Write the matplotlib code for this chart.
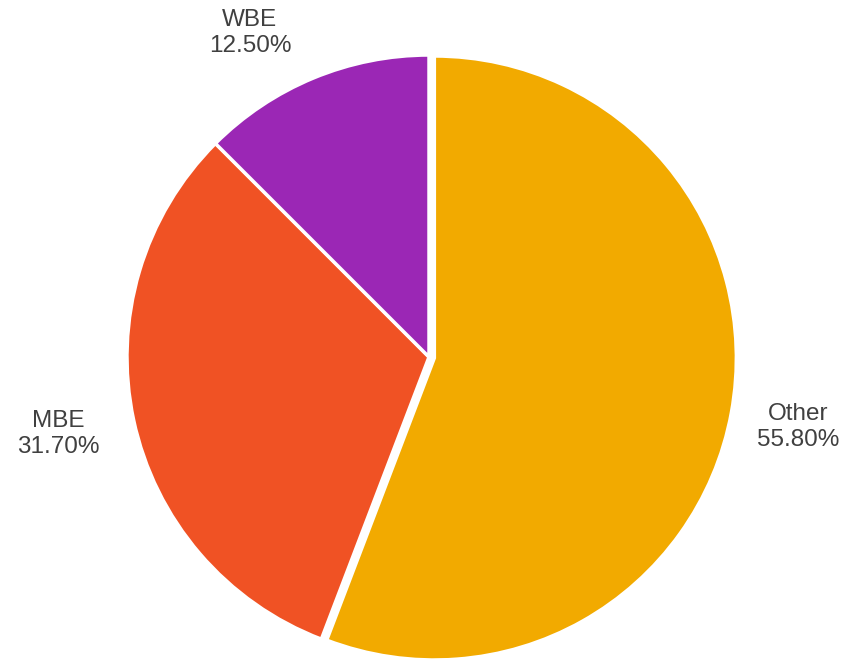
import matplotlib.pyplot as plt
import numpy as np

# slice data, clockwise from 12 o'clock
labels = ['Other', 'MBE', 'WBE']
shares = [55.8, 31.7, 12.5]
colors = ['#F2AA00', '#F05224', '#9B27B5']

# where each label block sits, in units of the pie radius
label_pos = [(1.222, -0.232), (-1.228, -0.255), (-0.593, 1.073)]

plt.rcParams['font.family'] = ['Liberation Sans', 'DejaVu Sans']

fig = plt.figure(figsize=(8.58, 6.59), dpi=100)
ax = fig.add_axes([0.148, 0.0, 0.704, 0.9165])

wedges, texts = ax.pie(shares, labels=labels, colors=colors,
                       startangle=90, counterclock=False,
                       explode=[0.018, 0, 0],
                       wedgeprops=dict(edgecolor='white', linewidth=2.5),
                       textprops=dict(color='#404040', fontsize=17.5))

# relabel as "name\nxx.xx%" and move to the spots they sit in the original
for t, lab, val, pos in zip(texts, labels, shares, label_pos):
    t.set_text('%s\n%.2f%%' % (lab, val))
    t.set_position(pos)
    t.set_ha('center')
    t.set_va('center')
    t.set_linespacing(1.25)

ax.set_xlim(-1, 1)
ax.set_ylim(-1, 1)
ax.set_aspect('auto')
ax.axis('off')

fig.savefig('out.png', dpi=100)
